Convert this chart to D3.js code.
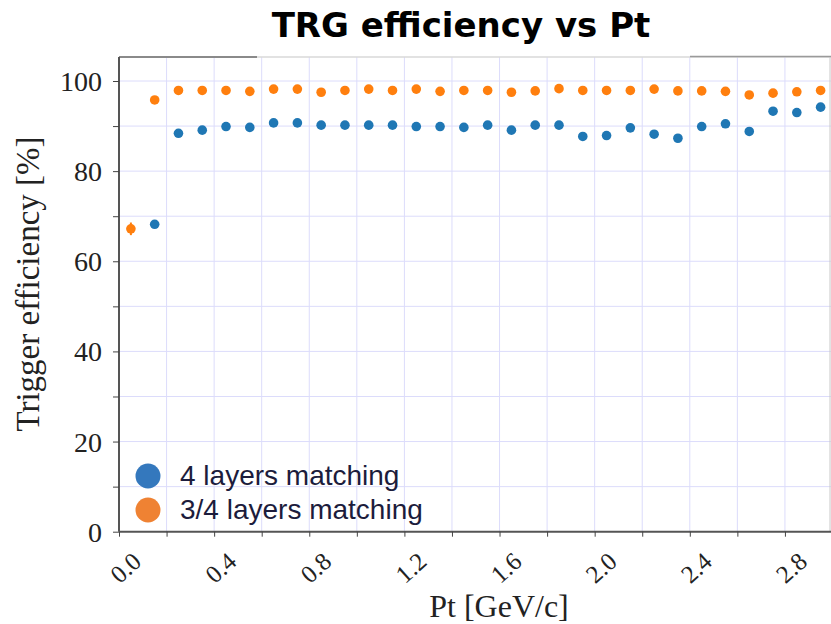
<!DOCTYPE html>
<html>
<head>
<meta charset="utf-8">
<script src="https://cdn.jsdelivr.net/npm/d3@7"></script>
<style>
  body { margin: 0; background: #fff; }
  svg { display: block; }
</style>
</head>
<body>
<svg id="chart"></svg>
<script>
const width = 831;
const height = 624;

// bin centres in Pt [GeV/c]
const pt = [0.05, 0.15, 0.25, 0.35, 0.45, 0.55, 0.65, 0.75, 0.85, 0.95,
            1.05, 1.15, 1.25, 1.35, 1.45, 1.55, 1.65, 1.75, 1.85, 1.95,
            2.05, 2.15, 2.25, 2.35, 2.45, 2.55, 2.65, 2.75, 2.85, 2.95];

// 4 layers matching (first bin empty)
const eff4 = [null, 68.2, 88.4, 89.1, 89.9, 89.7, 90.7, 90.7, 90.2, 90.2,
              90.2, 90.2, 89.9, 89.9, 89.7, 90.2, 89.1, 90.2, 90.2, 87.7,
              87.9, 89.6, 88.2, 87.3, 89.9, 90.5, 88.8, 93.3, 93.0, 94.2];
const err4 = [0, 0.4, 0.3, 0.3, 0.3, 0.3, 0.3, 0.3, 0.3, 0.3,
              0.3, 0.3, 0.3, 0.3, 0.3, 0.3, 0.3, 0.3, 0.3, 0.4,
              0.4, 0.4, 0.4, 0.4, 0.4, 0.5, 0.6, 0.6, 0.9, 0.8];

// 3/4 layers matching
const eff34 = [67.2, 95.8, 97.9, 97.9, 97.9, 97.7, 98.2, 98.2, 97.5, 97.9,
               98.2, 97.9, 98.2, 97.7, 97.9, 97.9, 97.5, 97.8, 98.3, 97.9,
               97.9, 97.9, 98.2, 97.8, 97.8, 97.7, 96.9, 97.3, 97.6, 97.9];
const err34 = [1.4, 0.3, 0.2, 0.2, 0.2, 0.2, 0.2, 0.2, 0.2, 0.2,
               0.2, 0.2, 0.2, 0.2, 0.2, 0.2, 0.2, 0.2, 0.2, 0.2,
               0.2, 0.2, 0.2, 0.2, 0.2, 0.3, 0.3, 0.3, 0.3, 0.3];

const xTicks = [0.0, 0.4, 0.8, 1.2, 1.6, 2.0, 2.4, 2.8];
const yTicks = [0, 20, 40, 60, 80, 100];

const seriesNames = ["4 layers matching", "3/4 layers matching"];
const colors = ["#1f77b4", "#ff7f0e"];
const legendColors = ["#3478bd", "#ef8233"];

const plotLeft = 119, plotRight = 832.5, plotTop = 57, plotBottom = 531.7;

const x = d3.scaleLinear().domain([0, 3]).range([plotLeft, plotRight]);
const y = d3.scaleLinear().domain([0, 105]).range([plotBottom, plotBottom - 105 * 4.507]);

const svg = d3.select("#chart")
    .attr("width", width)
    .attr("height", height);

// grid
const grid = svg.append("g").attr("class", "grid");
grid.selectAll("line.v")
    .data(d3.range(0.2, 3.0, 0.2))
    .enter().append("line")
    .attr("x1", d => x(d)).attr("x2", d => x(d))
    .attr("y1", plotTop).attr("y2", plotBottom)
    .attr("stroke", "#dcdcfb").attr("stroke-width", 1);
grid.selectAll("line.h")
    .data(d3.range(10, 101, 10))
    .enter().append("line")
    .attr("x1", plotLeft).attr("x2", width)
    .attr("y1", d => y(d)).attr("y2", d => y(d))
    .attr("stroke", "#dcdcfb").attr("stroke-width", 1);

// frame pieces at top and right
svg.append("line")
    .attr("x1", plotLeft).attr("x2", width).attr("y1", plotTop).attr("y2", plotTop)
    .attr("stroke", "#d8d8d8").attr("stroke-width", 1.5);
svg.append("line")
    .attr("x1", plotLeft).attr("x2", 257).attr("y1", plotTop).attr("y2", plotTop)
    .attr("stroke", "#8a8a8a").attr("stroke-width", 2);
svg.append("line")
    .attr("x1", 690).attr("x2", width).attr("y1", plotTop - 0.5).attr("y2", plotTop - 0.5)
    .attr("stroke", "#9a9a9a").attr("stroke-width", 1.5);
svg.append("line")
    .attr("x1", width - 1).attr("x2", width - 1).attr("y1", plotTop).attr("y2", plotBottom)
    .attr("stroke", "#c8c8c8").attr("stroke-width", 1);

// axes
const xAxis = d3.axisBottom(x)
    .tickValues(d3.range(0, 3.01, 0.2))
    .tickSize(5)
    .tickFormat(d => xTicks.some(t => Math.abs(t - d) < 1e-6) ? d3.format(".1f")(d) : "");
const gx = svg.append("g")
    .attr("transform", `translate(0,${plotBottom})`)
    .call(xAxis);
gx.select(".domain").attr("stroke", "#555").attr("stroke-width", 2)
    .attr("d", `M${plotLeft},0H${width}`);
gx.selectAll(".tick line").attr("stroke", "#444");
gx.selectAll(".tick text")
    .attr("font-family", "Liberation Serif, serif")
    .attr("font-size", 25)
    .attr("fill", "#222")
    .attr("text-anchor", "end")
    .attr("dy", 0)
    .attr("transform", "translate(18,26) rotate(-42)");

const yAxis = d3.axisLeft(y)
    .tickValues(d3.range(0, 101, 10))
    .tickSize(6)
    .tickFormat(d => yTicks.includes(d) ? d : "");
const gy = svg.append("g")
    .attr("transform", `translate(${plotLeft},0)`)
    .call(yAxis);
gy.select(".domain").attr("stroke", "#555").attr("stroke-width", 2)
    .attr("d", `M0,${plotBottom}V${plotTop}`);
gy.selectAll(".tick line").attr("stroke", "#444");
gy.selectAll(".tick text")
    .attr("font-family", "Liberation Serif, serif")
    .attr("font-size", 28)
    .attr("fill", "#222")
    .attr("x", -17)
    .attr("dy", "0.34em");

// axis titles
svg.append("text")
    .attr("x", 499).attr("y", 617)
    .attr("text-anchor", "middle")
    .attr("font-family", "Liberation Serif, serif")
    .attr("font-size", 32)
    .attr("fill", "#222")
    .text("Pt [GeV/c]");
svg.append("text")
    .attr("transform", "translate(39,284) rotate(-90)")
    .attr("text-anchor", "middle")
    .attr("font-family", "Liberation Serif, serif")
    .attr("font-size", 33)
    .attr("fill", "#222")
    .text("Trigger efficiency [%]");

// title
svg.append("text")
    .attr("x", 461).attr("y", 37)
    .attr("text-anchor", "middle")
    .attr("font-family", "DejaVu Sans, sans-serif")
    .attr("font-weight", "bold")
    .attr("font-size", 34)
    .attr("fill", "#000")
    .text("TRG efficiency vs Pt");

// data
const series = [
    { vals: eff4, errs: err4, color: colors[0] },
    { vals: eff34, errs: err34, color: colors[1] }
];
series.forEach(function (s) {
    const pts = pt.map((p, i) => ({ p: p, v: s.vals[i], e: s.errs[i] }))
        .filter(d => d.v !== null);
    const g = svg.append("g");
    g.selectAll("line")
        .data(pts)
        .enter().append("line")
        .attr("x1", d => x(d.p)).attr("x2", d => x(d.p))
        .attr("y1", d => y(d.v - d.e)).attr("y2", d => y(d.v + d.e))
        .attr("stroke", s.color).attr("stroke-width", 2);
    g.selectAll("circle")
        .data(pts)
        .enter().append("circle")
        .attr("cx", d => x(d.p))
        .attr("cy", d => y(d.v))
        .attr("r", 4.8)
        .attr("fill", s.color);
});

// legend
const legend = svg.append("g");
seriesNames.forEach(function (name, i) {
    legend.append("circle")
        .attr("cx", 148).attr("cy", 476 + i * 34)
        .attr("r", 12.5)
        .attr("fill", legendColors[i]);
    legend.append("text")
        .attr("x", 180).attr("y", 485 + i * 34)
        .attr("font-family", "Liberation Sans, Arial, sans-serif")
        .attr("font-size", 28)
        .attr("fill", "#1c1c3c")
        .text(name);
});
</script>
</body>
</html>
